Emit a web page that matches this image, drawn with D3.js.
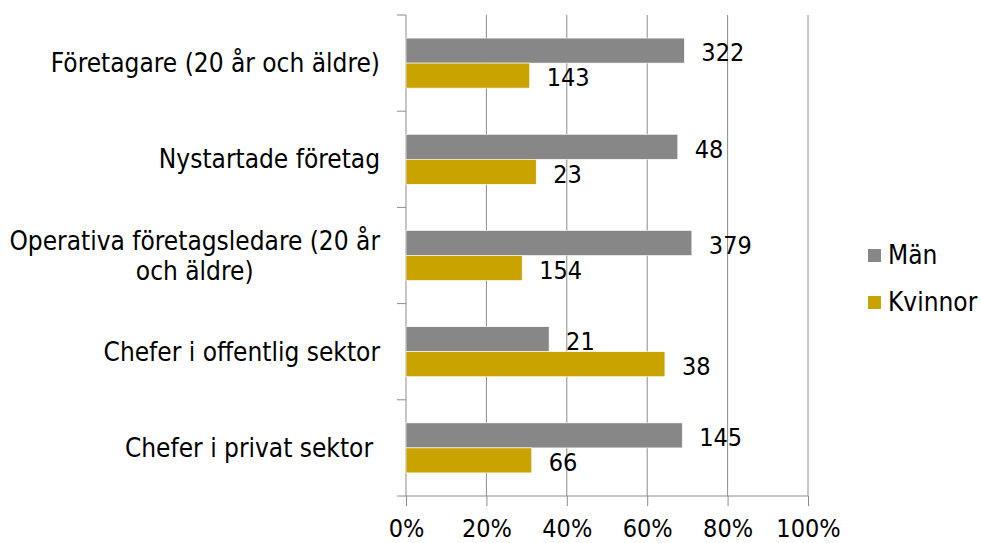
<!DOCTYPE html>
<html><head><meta charset="utf-8">
<script src="https://cdn.jsdelivr.net/npm/d3@7"></script>
<style>body{margin:0;background:#fff}svg{display:block}text{font-family:"DejaVu Sans Condensed","DejaVu Sans",sans-serif;fill:#000}</style>
</head><body><svg id="c" width="981" height="543"></svg>
<script>
const categories = [["Företagare (20 år och äldre)"],["Nystartade företag"],["Operativa företagsledare (20 år","och äldre)"],["Chefer i offentlig sektor"],["Chefer i privat sektor"]];
const man = [322, 48, 379, 21, 145];
const kvinnor = [143, 23, 154, 38, 66];
const seriesNames = ["Män","Kvinnor"];
const colors = ["#878787","#C9A300"];
const xTicks = [0,0.2,0.4,0.6,0.8,1];

const svg = d3.select("#c");
const L=406,R=808,T=15,B=496;
const x = d3.scaleLinear().domain([0,1]).range([L,R]);
const y = d3.scaleBand().domain(d3.range(categories.length)).range([T,B]);
const fsCat = 26, fsTick = 25, fsVal = 25, fsLeg = 26;

// grid
svg.selectAll(".grid").data(xTicks.slice(1)).enter().append("line")
 .attr("x1",d=>x(d)).attr("x2",d=>x(d)).attr("y1",T).attr("y2",B).attr("stroke","#8c8c8c").attr("stroke-width",1);

const gx = svg.append("g").attr("transform",`translate(0,${B})`)
 .call(d3.axisBottom(x).tickValues(xTicks).tickFormat(d3.format(".0%")).tickSize(10).tickPadding(13));
gx.select(".domain").attr("stroke","#8c8c8c").attr("d",`M${L},0H${R}`);
gx.selectAll("line").attr("stroke","#8c8c8c");
gx.selectAll("text").style("font-size",fsTick+"px").style("font-family",null);

// left axis
const gy = svg.append("g").attr("transform",`translate(${L},0)`);
gy.append("line").attr("x1",0).attr("x2",0).attr("y1",T).attr("y2",B).attr("stroke","#8c8c8c");
const bounds = d3.range(categories.length+1).map(i=>T+i*y.step());
gy.selectAll(".tk").data(bounds).enter().append("line").attr("x1",-9).attr("x2",0).attr("y1",d=>d).attr("y2",d=>d).attr("stroke","#8c8c8c");

// bars
const data = categories.map((c,i)=>{const tot=man[i]+kvinnor[i];return [{s:0,v:man[i],p:man[i]/tot},{s:1,v:kvinnor[i],p:kvinnor[i]/tot}];});
const bh = 25;
const g = svg.selectAll(".cat").data(data).enter().append("g").attr("transform",(d,i)=>`translate(0,${y(i)+y.bandwidth()/2})`);
g.selectAll("rect").data(d=>d).enter().append("rect")
 .attr("x",L).attr("y",d=>d.s===0?-bh:0).attr("width",d=>x(d.p)-L).attr("height",bh)
 .attr("fill",d=>colors[d.s]).attr("stroke","#fff").attr("stroke-width",0.6);
g.selectAll(".lbl").data(d=>d).enter().append("text")
 .attr("x",d=>x(d.p)+17).attr("y",d=>d.s===0?-bh/2+2:bh/2+2).attr("dy","0.35em")
 .style("font-size",fsVal+"px").text(d=>d.v);

// category labels
categories.forEach((d,i)=>{
  const cy = y(i)+y.bandwidth()/2;
  const xr = i===4?373:380;
  if(d.length===1){
    svg.append("text").attr("text-anchor","end").attr("x",xr).attr("y",cy).attr("dy","0.35em").style("font-size",fsCat+"px").text(d[0]);
  } else {
    const t0 = svg.append("text").attr("text-anchor","end").attr("x",xr).attr("y",cy-15).attr("dy","0.35em").style("font-size",fsCat+"px").text(d[0]);
    const w = t0.node().getComputedTextLength();
    svg.append("text").attr("text-anchor","middle").attr("x",xr-w/2).attr("y",cy+15).attr("dy","0.35em").style("font-size",fsCat+"px").text(d[1]);
  }
});

// legend
const lg = svg.append("g");
seriesNames.forEach((s,i)=>{
  const yy = 255 + i*47;
  lg.append("rect").attr("x",868).attr("y",yy-6).attr("width",13).attr("height",13).attr("fill",colors[i]);
  lg.append("text").attr("x",888).attr("y",yy).attr("dy","0.35em").style("font-size",fsLeg+"px").text(s);
});
</script></body></html>
